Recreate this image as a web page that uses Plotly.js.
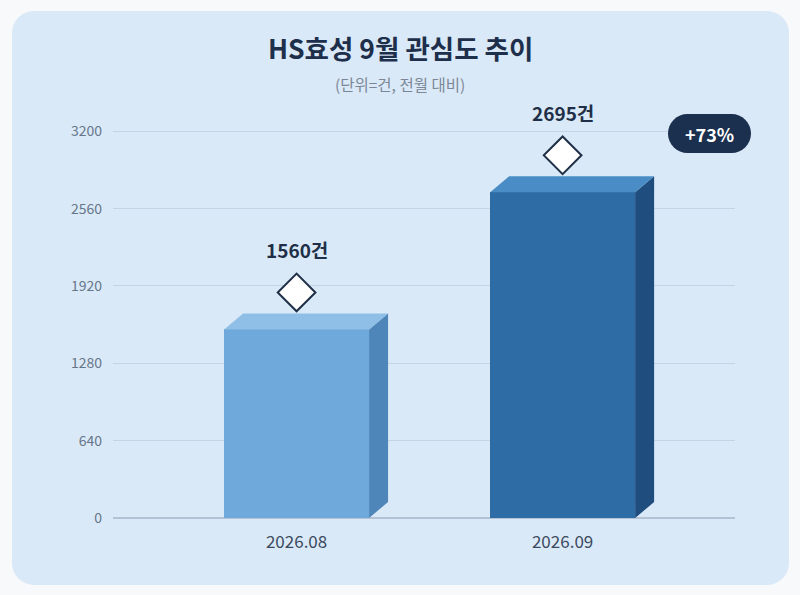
<!DOCTYPE html>
<html><head><meta charset="utf-8">
<script src="https://cdn.plot.ly/plotly-3.0.1.min.js"></script>
<style>
html,body{margin:0;padding:0;background:#f8f9fb;}
#wrap{position:relative;width:800px;height:595px;}
#card{position:absolute;left:12px;top:11px;width:777px;height:574px;border-radius:22px;background:#dae9f7;}
#chart{position:absolute;left:0;top:0;width:800px;height:595px;}
</style></head>
<body><div id="wrap"><div id="card"></div><div id="chart"></div></div>
<script>
const categories = ["2026.08", "2026.09"];
const values = [1560, 2695];
const valueLabels = ["1560건", "2695건"];
const changeLabel = "+73%";
const yTicks = [0, 640, 1280, 1920, 2560, 3200];
const titleText = "HS효성 9월 관심도 추이";
const subtitleText = "(단위=건, 전월 대비)";

const frontColors = ["#6fa8da", "#2e6ca5"];
const topColors = ["#8fbfe7", "#4a8dc6"];
const sideColors = ["#4f86ba", "#1f4d7e"];

const W = 800, H = 595;
const margin = {l:113, r:65, t:95, b:77};
const xRange = [-0.69, 1.648];
const yRange = [0, 3500];
const plotW = W - margin.l - margin.r, plotH = H - margin.t - margin.b;
const pxPerX = plotW / (xRange[1]-xRange[0]);
const pxPerY = plotH / (yRange[1]-yRange[0]);
const barW = 0.545;
const dx = 19 / pxPerX, dy = 16 / pxPerY;
const diamondOffset = 37 / pxPerY;
const FONT = '"Noto Sans CJK KR", "Noto Sans", sans-serif';

const px = x => (x - margin.l)/plotW;
const py = y => (H - margin.b - y)/plotH;

const shapes = [];
values.forEach((v,i)=>{
  const x0 = i - barW/2, x1 = i + barW/2;
  shapes.push({type:'path', xref:'x', yref:'y', layer:'above', line:{width:0},
    fillcolor: sideColors[i],
    path:`M${x1},0 L${x1+dx},${dy} L${x1+dx},${v+dy} L${x1},${v} Z`});
  shapes.push({type:'path', xref:'x', yref:'y', layer:'above', line:{width:0},
    fillcolor: topColors[i],
    path:`M${x0},${v} L${x0+dx},${v+dy} L${x1+dx},${v+dy} L${x1},${v} Z`});
});
const bx0=668, bx1=751, by0=114, by1=153, r=(by1-by0)/2;
function pill(){
  let p = `M${px(bx0+r)},${py(by0)} L${px(bx1-r)},${py(by0)}`;
  const steps=16;
  for(let k=0;k<=steps;k++){const a=-Math.PI/2+Math.PI*k/steps; p+=` L${px(bx1-r+r*Math.cos(a))},${py(by0+r+r*Math.sin(a))}`;}
  p+=` L${px(bx0+r)},${py(by1)}`;
  for(let k=0;k<=steps;k++){const a=Math.PI/2+Math.PI*k/steps; p+=` L${px(bx0+r+r*Math.cos(a))},${py(by0+r+r*Math.sin(a))}`;}
  return p+' Z';
}
shapes.push({type:'path', xref:'paper', yref:'paper', layer:'above', line:{width:0}, fillcolor:'#1b2f4e', path:pill()});

const annotations = values.map((v,i)=>({
  x: i, y: v, xref:'x', yref:'y', yshift:80, xanchor:'center', yanchor:'middle', showarrow:false,
  text: '<b>'+valueLabels[i]+'</b>', font:{family:FONT, size:19, color:'#1f2f47'}
}));
annotations.push({x:px((bx0+bx1)/2), y:py((by0+by1)/2), xref:'paper', yref:'paper', xanchor:'center', yanchor:'middle', showarrow:false,
  text:'<b>'+changeLabel+'</b>', font:{family:FONT, size:18, color:'#ffffff'}});
annotations.push({x:px(W/2), y:py(48), xref:'paper', yref:'paper', xanchor:'center', yanchor:'middle', showarrow:false,
  text:'<b>'+titleText+'</b>', font:{family:FONT, size:26.5, color:'#1e2f4b'}});
annotations.push({x:px(W/2), y:py(84), xref:'paper', yref:'paper', xanchor:'center', yanchor:'middle', showarrow:false,
  text:subtitleText, font:{family:FONT, size:15.5, color:'#7b8796'}});

const traces = [
  {type:'bar', x:[0,1], y:values, width:barW, marker:{color:frontColors, line:{width:0}}, hoverinfo:'skip'},
  {type:'scatter', mode:'markers', x:[0,1], y:values.map(v=>v+diamondOffset), cliponaxis:false,
   marker:{symbol:'diamond', size:29, color:'#ffffff', line:{color:'#1f2f47', width:2}}, hoverinfo:'skip'}
];

const layout = {
  width:W, height:H, margin:margin,
  paper_bgcolor:'rgba(0,0,0,0)', plot_bgcolor:'rgba(0,0,0,0)',
  showlegend:false,
  font:{family:FONT},
  xaxis:{range:xRange, tickvals:[0,1], ticktext:categories, showgrid:false, zeroline:false, showline:false,
    ticks:'', tickfont:{size:17, color:'#3b4a5f'}, ticklabelstandoff:12, fixedrange:true},
  yaxis:{range:yRange, tickvals:yTicks, ticktext:yTicks.map(String), showgrid:true, gridcolor:'#c4d4e5', gridwidth:1,
    zeroline:true, zerolinecolor:'#b3c2d4', zerolinewidth:1.5, showline:false, ticks:'',
    tickfont:{size:14, color:'#66768a'}, ticklabelstandoff:10, fixedrange:true},
  shapes:shapes, annotations:annotations, bargap:0
};
Plotly.newPlot('chart', traces, layout, {displayModeBar:false, staticPlot:true});
</script></body></html>
